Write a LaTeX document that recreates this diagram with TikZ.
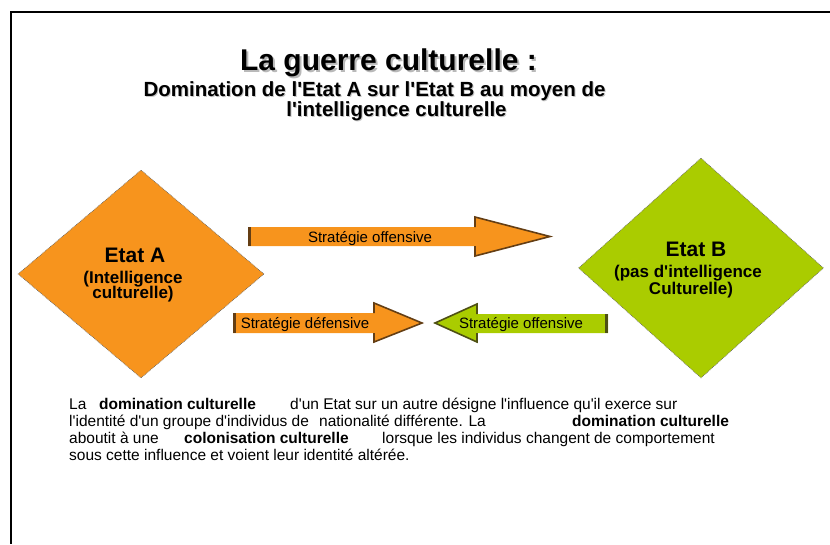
\documentclass[tikz,border=0pt]{standalone}
\usepackage{fontspec}
\setmainfont{Liberation Sans}[Ligatures=TeXOff]
\usetikzlibrary{shapes.geometric}

\definecolor{orangeA}{RGB}{247,148,29}
\definecolor{vertB}{RGB}{170,204,0}
\definecolor{bordA}{RGB}{100,62,20}
\definecolor{bordB}{RGB}{78,80,20}

\tikzset{
  etat/.style={diamond, minimum width=246pt, minimum height=208pt, inner sep=0pt,
    draw=gray!80!black, densely dotted, line width=0.7pt},
  etiq/.style={font=\fontsize{15}{17}\selectfont, anchor=base, inner sep=0pt},
  texte/.style={font=\fontsize{15.5}{17.5}\selectfont, anchor=base west, inner sep=0pt},
  gras/.style={font=\fontsize{15.5}{17.5}\selectfont\bfseries, anchor=base west, inner sep=0pt},
  bordsombreA/.style={draw=bordA, line width=1.6pt, line join=miter},
  bordsombreB/.style={draw=bordB, line width=1.6pt, line join=miter},
}

\begin{document}
\begin{tikzpicture}[x=1pt,y=-1pt]
\useasboundingbox (0,0) rectangle (830,544);

% cadre
\draw[line width=1.5pt] (830,12) -- (11,12) -- (11,544);

% titre
\node[anchor=base, text=gray!55, font=\fontsize{30}{32}\selectfont\bfseries] (titreombre) at (390.5,72) {La guerre culturelle :};
\node[anchor=base, font=\fontsize{30}{32}\selectfont\bfseries] (titre) at (388.5,70) {La guerre culturelle :};
\node[anchor=base, text=gray!45, font=\fontsize{20.5}{22}\selectfont\bfseries] (sousombre1) at (375.5,97.5) {Domination de l'Etat A sur l'Etat B au moyen de};
\node[anchor=base, font=\fontsize{20.5}{22}\selectfont\bfseries] (soustitre1) at (374.5,96.5) {Domination de l'Etat A sur l'Etat B au moyen de};
\node[anchor=base, text=gray!45, font=\fontsize{20.5}{22}\selectfont\bfseries] (sousombre2) at (397.5,117.5) {l'intelligence culturelle};
\node[anchor=base, font=\fontsize{20.5}{22}\selectfont\bfseries] (soustitre2) at (396.5,116.5) {l'intelligence culturelle};

% Etat A
\node[etat, fill=orangeA] (A) at (141,274) {};
\node[anchor=base, font=\fontsize{21}{23}\selectfont\bfseries] (nomA) at (135,262) {Etat A};
\node[anchor=base, font=\fontsize{17}{19}\selectfont\bfseries] (intelA1) at (133,283) {(Intelligence};
\node[anchor=base, font=\fontsize{17}{19}\selectfont\bfseries] (intelA2) at (133,298.5) {culturelle)};

% Etat B
\node[etat, fill=vertB, minimum width=245pt, minimum height=220pt] (B) at (701,268) {};
\node[anchor=base, font=\fontsize{21}{23}\selectfont\bfseries] (nomB) at (696,256) {Etat B};
\node[anchor=base, font=\fontsize{17}{19}\selectfont\bfseries] (intelB1) at (688,277) {(pas d'intelligence};
\node[anchor=base, font=\fontsize{17}{19}\selectfont\bfseries] (intelB2) at (691,294) {Culturelle)};

% fleche offensive A -> B
\fill[orangeA] (248,227) -- (475,227) -- (475,217) -- (550,236.5) -- (475,256) -- (475,246) -- (248,246) -- cycle;
\draw[bordsombreA, line width=3pt] (249.5,227) -- (249.5,246);
\draw[bordsombreA] (475,227) -- (475,217) -- (550,236.5) -- (475,256) -- (475,246);
\node[etiq] (offA) at (370,242) {Stratégie offensive};

% fleche defensive de A
\fill[orangeA] (233,313) -- (374,313) -- (374,303) -- (422,323) -- (374,342) -- (374,333) -- (233,333) -- cycle;
\draw[bordsombreA, line width=3pt] (234.5,313) -- (234.5,333);
\draw[bordsombreA] (374,313) -- (374,303) -- (422,323) -- (374,342) -- (374,333);
\node[etiq] (defA) at (305,328.5) {Stratégie défensive};

% fleche offensive de B
\fill[vertB] (608,314) -- (477,314) -- (477,304) -- (435,323) -- (477,342) -- (477,333) -- (608,333) -- cycle;
\draw[bordsombreB, line width=3pt] (606.5,314) -- (606.5,333);
\draw[bordsombreB] (477,314) -- (477,304) -- (435,323) -- (477,342) -- (477,333);
\node[etiq] (offB) at (521,328.5) {Stratégie offensive};

% texte
\node[texte] (l1a) at (69,409) {La};
\node[gras] (l1b) at (99,409) {domination culturelle};
\node[texte] (l1c) at (290,409) {d'un Etat sur un autre désigne l'influence qu'il exerce sur};
\node[texte] (l2a) at (69,426) {l'identité d'un groupe d'individus de};
\node[texte] (l2b) at (319,426) {nationalité différente. La};
\node[gras] (l2c) at (572,426) {domination culturelle};
\node[texte] (l3a) at (69,443) {aboutit à une};
\node[gras] (l3b) at (184,443) {colonisation culturelle};
\node[texte] (l3c) at (382,443) {lorsque les individus changent de comportement};
\node[texte] (l4) at (69,460) {sous cette influence et voient leur identité altérée.};

\end{tikzpicture}
\end{document}
